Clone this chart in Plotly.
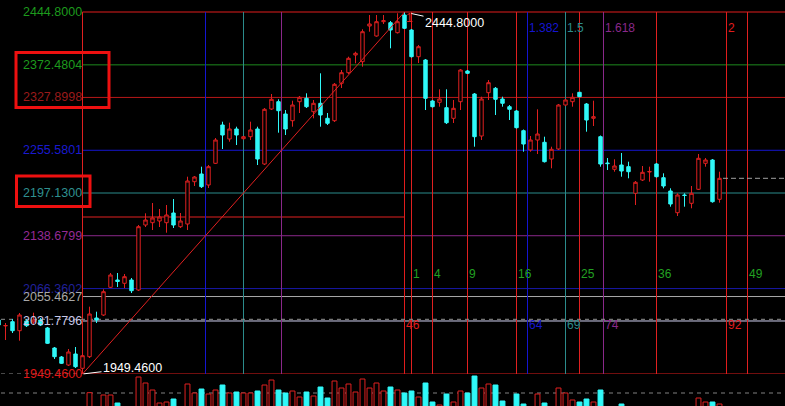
import plotly.graph_objects as go

# ---------------- data ----------------
bar_index = list(range(-12, 92))

opens = [2023.35, 2015.28, 2021.03, 2008.71, 2021.98, 2020.61, 2023.35, 2012.40, 1985.04, 1972.72, 1961.78, 1976.83,
         1957.26, 1973.13, 2026.09, 2030.19, 2068.09, 2078.08, 2073.57, 2078.08, 2064.40, 2153.34,
         2156.49, 2158.82, 2156.49, 2169.76, 2151.02, 2154.71, 2212.59, 2223.13, 2208.08, 2237.77,
         2290.18, 2271.02, 2284.70, 2271.43, 2274.17, 2284.70, 2236.81, 2312.07, 2322.06, 2305.23,
         2296.06, 2322.06, 2326.71, 2308.38, 2319.87, 2299.35, 2296.06, 2347.24, 2361.74, 2385.96,
         2376.79, 2425.64, 2411.96, 2431.53, 2430.16, 2416.48, 2440.69, 2420.17, 2383.64, 2379.12,
         2323.02, 2321.24, 2313.85, 2299.35, 2322.06, 2364.07, 2332.60, 2275.13, 2334.38, 2340.40,
         2325.75, 2315.22, 2309.33, 2282.38, 2255.97, 2269.65, 2266.51, 2243.65, 2257.34, 2317.54,
         2322.06, 2334.92, 2318.91, 2299.35, 2274.17, 2238.18, 2229.56, 2235.44, 2233.12, 2196.72,
         2214.92, 2225.87, 2236.81, 2218.07, 2199.87, 2170.17, 2194.39, 2183.04, 2202.19, 2237.77,
         2242.29, 2188.51]
highs = [2026.09, 2019.25, 2024.72, 2032.93, 2024.72, 2033.34, 2026.09, 2013.77, 1986.41, 1974.09, 1983.67, 1986.41,
         1976.83, 2041.55, 2034.71, 2065.36, 2087.66, 2087.66, 2086.29, 2080.82, 2153.34, 2169.35,
         2183.45, 2175.24, 2180.71, 2188.92, 2169.76, 2219.43, 2220.39, 2233.12, 2235.44, 2272.39,
         2294.69, 2293.32, 2287.85, 2275.13, 2294.69, 2287.85, 2313.44, 2332.60, 2325.34, 2310.70,
         2323.43, 2329.86, 2333.55, 2324.39, 2360.92, 2306.60, 2347.65, 2365.44, 2383.64, 2390.48,
         2421.13, 2440.69, 2440.69, 2440.69, 2432.48, 2443.02, 2444.80, 2421.54, 2399.64, 2380.49,
         2324.39, 2339.03, 2339.03, 2324.39, 2366.80, 2365.44, 2333.96, 2328.90, 2351.75, 2342.17,
         2328.90, 2317.54, 2310.70, 2284.02, 2275.13, 2311.66, 2274.17, 2260.48, 2318.91, 2325.75,
         2333.55, 2335.33, 2320.28, 2323.43, 2275.81, 2245.02, 2243.24, 2251.86, 2239.96, 2213.55,
         2234.08, 2233.12, 2238.18, 2224.09, 2203.56, 2196.72, 2196.72, 2206.71, 2250.50, 2245.02,
         2243.65, 2226.28]
lows = [2013.77, 1995.98, 2005.56, 1995.03, 2013.77, 2017.88, 2015.14, 1990.51, 1969.99, 1963.14, 1960.41, 1957.67,
        1949.46, 1971.35, 2019.25, 2028.82, 2067.14, 2068.51, 2067.14, 2060.30, 2063.03, 2150.61,
        2146.50, 2150.61, 2142.81, 2149.24, 2149.24, 2146.50, 2206.71, 2203.97, 2203.97, 2236.81,
        2257.34, 2267.33, 2262.81, 2270.34, 2269.65, 2235.44, 2235.44, 2310.70, 2279.64, 2276.49,
        2287.85, 2306.60, 2313.44, 2299.35, 2287.85, 2290.18, 2294.28, 2340.81, 2359.96, 2374.60,
        2369.95, 2417.84, 2411.00, 2428.38, 2395.13, 2415.38, 2421.54, 2382.54, 2375.01, 2310.70,
        2314.12, 2315.22, 2291.55, 2292.91, 2310.70, 2359.96, 2260.48, 2269.65, 2324.39, 2303.86,
        2315.22, 2297.02, 2285.39, 2253.64, 2253.64, 2250.50, 2238.86, 2230.93, 2255.97, 2316.18,
        2315.22, 2328.49, 2281.01, 2288.81, 2233.12, 2228.60, 2226.28, 2219.43, 2217.24, 2180.71,
        2213.55, 2212.59, 2218.34, 2203.56, 2178.38, 2165.66, 2178.38, 2176.19, 2201.24, 2233.12,
        2183.86, 2183.86]
closes = [2016.51, 2015.83, 2008.71, 2030.19, 2015.55, 2023.35, 2016.51, 1991.47, 1973.13, 1964.10, 1979.56, 1959.45,
          1974.50, 2031.56, 2023.35, 2062.07, 2084.93, 2076.03, 2082.60, 2063.44, 2151.02, 2160.19,
          2162.92, 2164.29, 2167.03, 2153.34, 2158.82, 2213.55, 2219.02, 2205.75, 2233.12, 2269.65,
          2276.49, 2284.70, 2276.49, 2274.17, 2283.34, 2243.65, 2311.66, 2325.34, 2309.74, 2284.70,
          2317.54, 2328.08, 2315.22, 2319.87, 2303.86, 2292.50, 2345.87, 2361.74, 2381.45, 2388.29,
          2417.84, 2428.38, 2431.53, 2432.90, 2420.17, 2431.53, 2422.50, 2383.64, 2397.32, 2326.71,
          2315.22, 2325.75, 2293.32, 2313.03, 2365.44, 2360.92, 2274.17, 2325.75, 2348.06, 2325.34,
          2319.87, 2311.66, 2286.48, 2264.18, 2269.65, 2277.86, 2239.96, 2256.93, 2317.54, 2324.39,
          2328.08, 2328.90, 2297.02, 2301.53, 2236.81, 2237.36, 2234.08, 2227.23, 2226.28, 2211.77,
          2225.46, 2226.55, 2219.43, 2206.71, 2182.08, 2194.39, 2193.71, 2196.72, 2244.61, 2242.29,
          2185.23, 2217.24]
volumes = [1700, 1650, 1800, 1750, 1600, 1700, 1650, 1850, 1800, 1750, 1900, 1850,
           1800, 3330, 1900, 3100, 3100, 2300, 1900, 1900, 4900, 4300,
           3600, 2300, 2400, 2700, 1900, 4200, 3300, 3700, 3200, 3600,
           4100, 3300, 3400, 3300, 3300, 3500, 4100, 4600, 3600, 3300,
           3500, 2900, 3400, 3000, 3900, 2800, 4500, 3800, 4200, 3400,
           4700, 3800, 4300, 3500, 3900, 3600, 3300, 3500, 2900, 4300,
           2400, 2100, 3200, 2400, 3500, 3300, 5000, 3800, 4200, 4100,
           2500, 1900, 3200, 2200, 1900, 3200, 2300, 1900, 3800, 3300,
           2600, 2400, 2700, 2400, 3600, 1900, 1800, 2200, 1900, 1950,
           1700, 1600, 1900, 1800, 1950, 1900, 1600, 1800, 2800, 2400,
           2400, 2200]

swing_low_index, swing_low = 0, 1949.46
swing_high_index, swing_high = 46, 2444.80

level_values = [2444.80, 2372.4804, 2327.8998, 2255.5801, 2197.13, 2138.6799, 2066.3602, 2055.4627, 2022.0, 1949.46]
level_labels = ["2444.8000", "2372.4804", "2327.8998", "2255.5801", "2197.1300", "2138.6799",
                "2066.3602", "2055.4627", "2031.7796", "1949.4600"]
level_line_colors = ["#e01c1c", "#1d8a1d", "#b81818", "#1515d0", "#2b8b8b", "#8a288a",
                     "#1818a8", "#a8a8a8", "#d0d0f0", "#e01c1c"]
level_text_colors = ["#1d9a1d", "#1d9a1d", "#9a1a1a", "#1a1ad0", "#2f9090", "#952a95",
                     "#20209a", "#a8a8a8", "#c8c8e8", "#e01818"]

mid_line_value = 2164.29
prev_line_value = 2024.31
vol_avg = 3300

time_ratios = [0.382, 0.5, 0.618, 1, 1.382, 1.5, 1.618, 2]
time_ratio_labels = ["", "", "", "1", "1.382", "1.5", "1.618", "2"]
time_ratio_colors = ["#1515d0", "#2b8b8b", "#8a288a", "#e01c1c", "#1515d0", "#2b8b8b", "#8a288a", "#e01c1c"]
square_zones = [1, 4, 9, 16, 25, 36, 49]

RED = "#e02020"
CYAN = "#30f8f8"

# ---------------- geometry of the axes ----------------
W, H = 785, 406
left_px, step_px = 82.5, 7
top_px, bot_px = 12, 374
X0 = -left_px / step_px
X1 = (W - left_px) / step_px
ppu = (bot_px - top_px) / (swing_high - swing_low)
Y0 = swing_low - (H - bot_px) / ppu
Y1 = swing_high + top_px / ppu
vol_dom = (H - bot_px) / H

fig = go.Figure()

fig.add_trace(go.Candlestick(
    x=bar_index, open=opens, high=highs, low=lows, close=closes,
    increasing=dict(line=dict(color=RED, width=1), fillcolor="black"),
    decreasing=dict(line=dict(color=CYAN, width=1), fillcolor=CYAN),
    whiskerwidth=0, hoverinfo="skip", showlegend=False))

up = [c > o for o, c in zip(opens, closes)]
fig.add_trace(go.Bar(
    x=bar_index, y=volumes, yaxis="y2", width=0.7,
    marker=dict(color=["black" if u else CYAN for u in up],
                line=dict(color=[RED if u else CYAN for u in up], width=1)),
    hoverinfo="skip", showlegend=False))

shapes = []
for v, c in zip(level_values, level_line_colors):
    shapes.append(dict(type="line", xref="x", yref="y", x0=swing_low_index, x1=X1 + 2, y0=v, y1=v,
                       line=dict(color=c, width=1), layer="below"))
shapes.append(dict(type="line", xref="x", yref="y", x0=swing_low_index, x1=swing_high_index,
                   y0=mid_line_value, y1=mid_line_value, line=dict(color=RED, width=1), layer="below"))
shapes.append(dict(type="line", xref="x", yref="y", x0=swing_low_index, x1=swing_low_index,
                   y0=swing_low, y1=swing_high, line=dict(color=RED, width=1), layer="below"))
span = swing_high_index - swing_low_index
for r, c in zip(time_ratios, time_ratio_colors):
    xv = swing_low_index + r * span
    shapes.append(dict(type="line", xref="x", yref="y", x0=xv, x1=xv, y0=swing_low, y1=swing_high,
                       line=dict(color=c, width=1), layer="below"))
for n in square_zones:
    xv = swing_high_index + n
    shapes.append(dict(type="line", xref="x", yref="y", x0=xv, x1=xv, y0=swing_low, y1=swing_high,
                       line=dict(color=RED, width=1), layer="below"))
shapes.append(dict(type="line", xref="x", yref="y", x0=X0 - 1, x1=X1 + 2, y0=prev_line_value, y1=prev_line_value,
                   line=dict(color="#909090", width=1, dash="4px,4px"), layer="below"))
shapes.append(dict(type="line", xref="x", yref="y", x0=X0 - 1, x1=swing_low_index, y0=swing_low, y1=swing_low,
                   line=dict(color="#909090", width=1, dash="4px,4px"), layer="below"))
shapes.append(dict(type="line", xref="x", yref="y2", x0=X0 - 1, x1=X1 + 2, y0=vol_avg, y1=vol_avg,
                   line=dict(color="#808080", width=1, dash="4px,4px"), layer="below"))
shapes.append(dict(type="line", xref="x", yref="y", x0=bar_index[-1] + 0.5, x1=X1 + 2,
                   y0=closes[-1], y1=closes[-1],
                   line=dict(color="#a0a0a0", width=1, dash="5px,3px"), layer="below"))
shapes.append(dict(type="line", xref="x", yref="y", x0=swing_low_index, x1=swing_high_index,
                   y0=swing_low, y1=swing_high, line=dict(color=RED, width=1), layer="above"))

def box(x0, y0, x1, y1):
    return dict(type="rect", xref="paper", yref="paper", x0=x0 / W, x1=x1 / W,
                y0=1 - y1 / H, y1=1 - y0 / H, line=dict(color="#ee1010", width=3), layer="above")
shapes.append(box(16, 52.5, 109, 107.5))
shapes.append(box(16.5, 176, 90, 206.5))

annotations = []
for v, t, c in zip(level_values, level_labels, level_text_colors):
    annotations.append(dict(x=swing_low_index, y=v, xref="x", yref="y", text=t, showarrow=False,
                            xanchor="right", yanchor="middle", xshift=1,
                            font=dict(family="Liberation Sans, Arial", size=12.5, color=c)))
for r, t, c in zip(time_ratios, time_ratio_labels, time_ratio_colors):
    if not t:
        continue
    yy = 18 if r == 1 else 28
    annotations.append(dict(x=swing_low_index + r * span, y=1 - yy / H, xref="x", yref="paper", text=t,
                            showarrow=False, xanchor="left", yanchor="middle", xshift=-1,
                            font=dict(family="Liberation Sans, Arial", size=12, color=c)))
    annotations.append(dict(x=swing_low_index + r * span, y=1 - 325 / H, xref="x", yref="paper",
                            text=str(round(r * span)), showarrow=False, xanchor="left", yanchor="middle",
                            xshift=-1, font=dict(family="Liberation Sans, Arial", size=12, color=c)))
for n in square_zones:
    annotations.append(dict(x=swing_high_index + n, y=1 - 274 / H, xref="x", yref="paper", text=str(n),
                            showarrow=False, xanchor="left", yanchor="middle", xshift=-1,
                            font=dict(family="Liberation Sans, Arial", size=12, color="#22a022")))
annotations.append(dict(x=swing_high_index, y=swing_high, xref="x", yref="y", text="2444.8000",
                        showarrow=True, arrowhead=0, arrowwidth=1, arrowcolor="white", standoff=7,
                        ax=50, ay=11, font=dict(family="Liberation Sans, Arial", size=12.5, color="white")))
annotations.append(dict(x=swing_low_index, y=swing_low, xref="x", yref="y", text="1949.4600",
                        showarrow=True, arrowhead=0, arrowwidth=1, arrowcolor="white", standoff=1,
                        ax=50, ay=-6, font=dict(family="Liberation Sans, Arial", size=12.5, color="white")))

fig.update_layout(
    width=W, height=H, margin=dict(l=0, r=0, t=0, b=0),
    paper_bgcolor="black", plot_bgcolor="black", showlegend=False,
    xaxis=dict(range=[X0, X1], visible=False, rangeslider=dict(visible=False), fixedrange=True),
    yaxis=dict(range=[Y0, Y1], domain=[0, 1], visible=False, fixedrange=True),
    yaxis2=dict(range=[2000, 5200], domain=[0, vol_dom], visible=False, anchor="x", fixedrange=True),
    shapes=shapes, annotations=annotations, bargap=0.3,
)

fig.write_html("out.html", config={"displayModeBar": False},
               post_script="document.body.style.margin='0';document.body.style.background='black';")
